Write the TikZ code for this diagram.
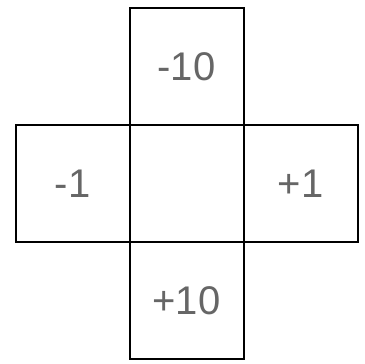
\documentclass[tikz,border=0pt]{standalone}
\usepackage{fontspec}
\setmainfont{Liberation Sans}
\usetikzlibrary{positioning}

\begin{document}
\begin{tikzpicture}[x=1pt, y=1pt,
        cell/.style={draw, line width=2pt, outer sep=0pt, inner sep=0pt,
            minimum width=114pt, minimum height=117pt,
            font=\fontsize{40}{40}\selectfont, text=black!60}]
    \useasboundingbox (0,0) rectangle (365,364);
    % centre cell and its four neighbours
    \node[cell] (mid) at (186.5,180.5) {};
    \node[cell, above=0pt of mid] (up) {-10};
    \node[cell, below=0pt of mid] (down) {+10};
    \node[cell, left=0pt of mid] (west) {-1};
    \node[cell, right=0pt of mid] (east) {+1};
\end{tikzpicture}
\end{document}
